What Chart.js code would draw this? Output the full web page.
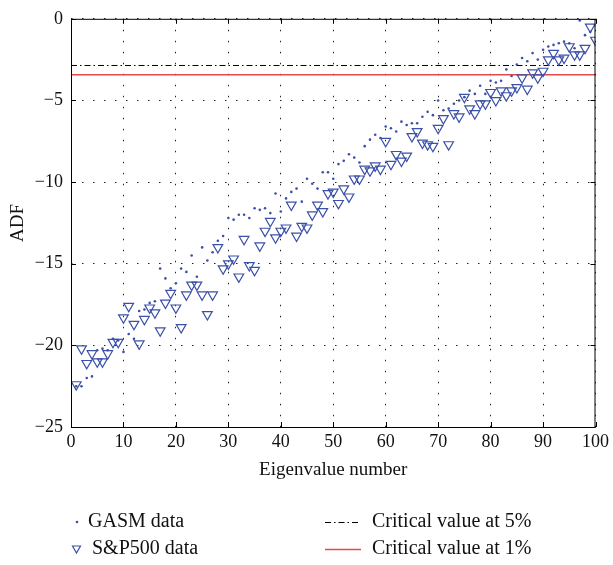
<!DOCTYPE html>
<html>
<head>
<meta charset="utf-8">
<script src="https://cdn.jsdelivr.net/npm/chart.js@4.4.0/dist/chart.umd.min.js"></script>
<style>
  html, body { margin: 0; padding: 0; background: #fff; }
  #wrap { width: 613px; height: 565px; }
</style>
</head>
<body>
<div id="wrap"><canvas id="adfChart" width="613" height="565"></canvas></div>
<script>
// ADF statistic per eigenvalue number
const gasmValues = [
  -22.5, -22.5, -22.0, -21.9, -20.3, -20.2, -20.3, -19.6, -19.7, -20.4,
  -19.3, -19.6, -17.9, -17.8, -17.4, -17.3, -15.3, -15.9, -16.5, -16.2,
  -15.3, -15.5, -14.5, -15.8, -14.0, -14.8, -14.3, -13.6, -13.3, -12.2,
  -12.3, -12.0, -12.0, -12.2, -11.6, -11.7, -11.6, -11.9, -10.7, -11.8,
  -11.0, -10.6, -10.4, -11.2, -9.8, -10.1, -10.4, -9.4, -9.4, -9.8,
  -8.9, -8.7, -8.3, -8.5, -8.8, -7.8, -7.4, -7.1, -7.3, -6.6,
  -6.7, -6.9, -6.3, -6.5, -6.4, -6.4, -6.0, -5.7, -5.9, -5.0,
  -5.6, -5.5, -5.2, -5.0, -4.8, -4.4, -4.6, -4.1, -4.6, -3.8,
  -3.9, -3.8, -3.1, -3.5, -2.8, -2.4, -2.6, -2.1, -2.5, -1.9,
  -1.7, -1.6, -1.5, -1.4, -1.5, -1.8, -0.1, -1.0, -0.8, -0.4
];
const spValues = [
  -22.4, -20.2, -21.1, -20.5, -21.0, -21.0, -20.5, -19.8, -19.8, -18.3,
  -17.6, -18.7, -19.9, -18.4, -17.7, -18.0, -19.1, -17.4, -16.8, -17.7,
  -18.9, -16.9, -16.3, -16.3, -16.9, -18.1, -16.9, -14.0, -15.3, -15.0,
  -14.7, -15.8, -13.5, -15.1, -15.4, -13.9, -13.0, -12.4, -13.4, -13.0,
  -12.8, -11.4, -13.3, -12.7, -12.8, -12.0, -11.4, -11.8, -10.7, -10.6,
  -11.3, -10.4, -10.9, -9.8, -9.8, -9.2, -9.3, -9.0, -9.2, -7.5,
  -8.9, -8.3, -8.7, -8.4, -7.2, -6.9, -7.6, -7.7, -7.8, -6.7,
  -6.1, -7.7, -5.8, -6.0, -4.8, -5.5, -5.8, -5.2, -5.2, -4.5,
  -5.0, -4.4, -4.7, -4.4, -4.2, -3.6, -4.3, -3.3, -3.6, -3.2,
  -2.5, -2.1, -2.5, -2.4, -1.7, -2.2, -2.2, -1.8, -0.5, -1.3
];
const criticalLevels = [-2.86, -3.43];
const criticalLabels = ['Critical value at 5%', 'Critical value at 1%'];
const xRange = [0, 100];

const BLUE = '#3b50a8';
const RED = '#e5484a';
const FONT = "'Liberation Serif', 'DejaVu Serif', serif";

function toPoints(values) {
  return values.map((v, i) => ({ x: i + 1, y: v }));
}

// box + inward tick marks (matlab style)
const boxPlugin = {
  id: 'boxPlugin',
  afterDraw(chart) {
    const { ctx, chartArea: a, scales } = chart;
    ctx.save();
    ctx.strokeStyle = '#000';
    ctx.lineWidth = 1;
    ctx.setLineDash([]);
    ctx.strokeRect(a.left + 0.5, a.top + 0.5, a.right - a.left - 1, a.bottom - a.top);
    const len = 5;
    ctx.beginPath();
    scales.x.ticks.forEach(t => {
      const px = Math.round(scales.x.getPixelForValue(t.value)) + 0.5;
      ctx.moveTo(px, a.bottom); ctx.lineTo(px, a.bottom - len);
      ctx.moveTo(px, a.top); ctx.lineTo(px, a.top + len);
    });
    scales.y.ticks.forEach(t => {
      const py = Math.round(scales.y.getPixelForValue(t.value)) + 0.5;
      ctx.moveTo(a.left, py); ctx.lineTo(a.left + len, py);
      ctx.moveTo(a.right, py); ctx.lineTo(a.right - len, py);
    });
    ctx.stroke();
    ctx.restore();
  }
};

// two-column legend under the axis
const legendPlugin = {
  id: 'legendPlugin',
  afterDraw(chart) {
    const { ctx } = chart;
    const ds = chart.data.datasets;
    ctx.save();
    ctx.font = '20px ' + FONT;
    ctx.fillStyle = '#111';
    ctx.textBaseline = 'middle';
    ctx.textAlign = 'left';

    // GASM dot
    ctx.fillStyle = BLUE;
    ctx.beginPath(); ctx.arc(77, 522, 1.3, 0, Math.PI * 2); ctx.fill();
    ctx.fillStyle = '#111';
    ctx.fillText(ds[0].label, 88, 522);

    // S&P500 triangle
    ctx.strokeStyle = BLUE; ctx.lineWidth = 1.2;
    ctx.beginPath();
    ctx.moveTo(72.5, 546); ctx.lineTo(80.5, 546); ctx.lineTo(76.5, 553); ctx.closePath();
    ctx.stroke();
    ctx.fillText(ds[1].label, 92, 549);

    // critical lines
    ctx.strokeStyle = '#000'; ctx.lineWidth = 1;
    ctx.setLineDash(ds[2].borderDash);
    ctx.beginPath(); ctx.moveTo(325, 522.5); ctx.lineTo(361, 522.5); ctx.stroke();
    ctx.setLineDash([]);
    ctx.strokeStyle = RED; ctx.lineWidth = 1.4;
    ctx.beginPath(); ctx.moveTo(325, 549.5); ctx.lineTo(361, 549.5); ctx.stroke();
    ctx.fillText(ds[2].label, 372, 522);
    ctx.fillText(ds[3].label, 372, 549);
    ctx.restore();
  }
};

const ctx = document.getElementById('adfChart').getContext('2d');
new Chart(ctx, {
  type: 'scatter',
  data: {
    datasets: [
      {
        label: 'GASM data',
        data: toPoints(gasmValues),
        pointStyle: 'circle',
        pointRadius: 1.3,
        backgroundColor: BLUE,
        borderWidth: 0
      },
      {
        label: 'S&P500 data',
        data: toPoints(spValues),
        pointStyle: 'triangle',
        rotation: 180,
        pointRadius: 5.6,
        backgroundColor: 'rgba(0,0,0,0)',
        borderColor: BLUE,
        borderWidth: 1.2
      },
      {
        label: criticalLabels[0],
        data: xRange.map(x => ({ x: x, y: criticalLevels[0] })),
        showLine: true,
        pointRadius: 0,
        borderColor: '#000',
        borderWidth: 1,
        borderDash: [6, 3, 1.5, 3]
      },
      {
        label: criticalLabels[1],
        data: xRange.map(x => ({ x: x, y: criticalLevels[1] })),
        showLine: true,
        pointRadius: 0,
        borderColor: RED,
        borderWidth: 1.4
      }
    ]
  },
  options: {
    responsive: false,
    devicePixelRatio: 1,
    animation: false,
    layout: { padding: { left: 0, right: 13, top: 12, bottom: 78 } },
    plugins: {
      legend: { display: false },
      tooltip: { enabled: false }
    },
    scales: {
      x: {
        type: 'linear',
        min: 0,
        max: 100,
        afterFit(scale) { scale.height = 60; },
        ticks: {
          stepSize: 10,
          color: '#111',
          padding: 4,
          font: { family: FONT, size: 18 }
        },
        grid: { color: '#222', lineWidth: 1, drawTicks: false },
        border: { display: false, dash: [1.5, 9.5] },
        title: {
          display: true,
          text: 'Eigenvalue number',
          color: '#111',
          padding: { top: 0, bottom: 6 },
          font: { family: FONT, size: 19 }
        }
      },
      y: {
        min: -25,
        max: 0,
        afterFit(scale) { scale.width = 71; },
        ticks: {
          stepSize: 5,
          color: '#111',
          padding: 8,
          font: { family: FONT, size: 18 },
          callback: v => String(v).replace('-', '\u2212')
        },
        grid: { color: '#222', lineWidth: 1, drawTicks: false },
        border: { display: false, dash: [1.5, 9.5] },
        title: {
          display: true,
          text: 'ADF',
          color: '#111',
          padding: { top: 7, bottom: 0 },
          font: { family: FONT, size: 19 }
        }
      }
    }
  },
  plugins: [boxPlugin, legendPlugin]
});
</script>
</body>
</html>
